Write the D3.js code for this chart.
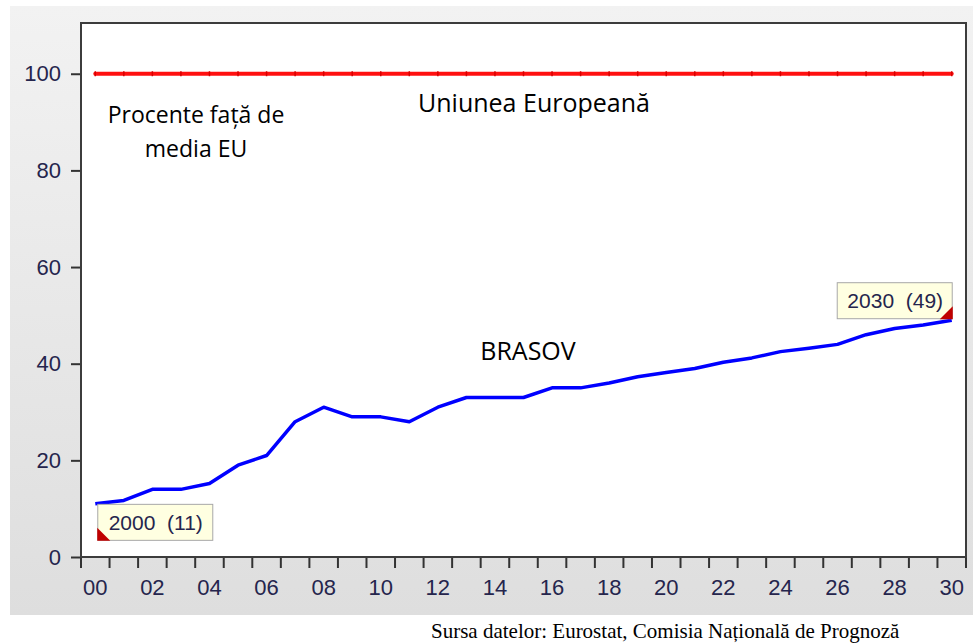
<!DOCTYPE html>
<html>
<head>
<meta charset="utf-8">
<script src="https://cdn.jsdelivr.net/npm/d3@7"></script>
<style>
  body { margin: 0; background: #fff; }
  svg { display: block; }
</style>
</head>
<body>
<div id="chart"></div>
<script>
var years = [2000, 2001, 2002, 2003, 2004, 2005, 2006, 2007, 2008, 2009, 2010,
             2011, 2012, 2013, 2014, 2015, 2016, 2017, 2018, 2019, 2020,
             2021, 2022, 2023, 2024, 2025, 2026, 2027, 2028, 2029, 2030];
var brasov = [11, 11.7, 14, 14, 15.2, 19, 21, 28, 31, 29, 29,
              28, 31, 33, 33, 33, 35, 35, 36, 37.3, 38.2,
              39, 40.3, 41.2, 42.5, 43.2, 44, 46, 47.3, 48, 49];
var eu = [100, 100, 100, 100, 100, 100, 100, 100, 100, 100, 100,
          100, 100, 100, 100, 100, 100, 100, 100, 100, 100,
          100, 100, 100, 100, 100, 100, 100, 100, 100, 100];
var yTicks = [0, 20, 40, 60, 80, 100];
var xTickLabels = {2000: "00", 2002: "02", 2004: "04", 2006: "06", 2008: "08", 2010: "10",
                   2012: "12", 2014: "14", 2016: "16", 2018: "18", 2020: "20", 2022: "22",
                   2024: "24", 2026: "26", 2028: "28", 2030: "30"};

var width = 973,
    height = 643,
    plot = {left: 81, right: 966, top: 23, bottom: 557},
    axisFont = "'Liberation Sans', Arial, sans-serif",
    labelFont = "'Open Sans', 'Noto Sans', sans-serif",
    tickColor = "#25254d";

var svg = d3.select("#chart").append("svg")
  .attr("width", width)
  .attr("height", height);

var defs = svg.append("defs");
var grad = defs.append("linearGradient").attr("id", "panelGrad")
  .attr("x1", 0).attr("y1", 0).attr("x2", 0).attr("y2", 1);
grad.append("stop").attr("offset", "0%").attr("stop-color", "#f2f2f2");
grad.append("stop").attr("offset", "100%").attr("stop-color", "#dedede");

// grey panel behind the chart
svg.append("rect")
  .attr("x", 10).attr("y", 6)
  .attr("width", width - 10).attr("height", 609)
  .attr("fill", "url(#panelGrad)");

// plot area
svg.append("rect")
  .attr("x", plot.left).attr("y", plot.top)
  .attr("width", plot.right - plot.left).attr("height", plot.bottom - plot.top)
  .attr("fill", "#fff");

var x = d3.scaleBand().domain(years).range([plot.left, plot.right]);
var y = d3.scaleLinear().domain([0, 110.5]).range([plot.bottom, plot.top]);
var cx = d => x(d) + x.bandwidth() / 2;

// x axis: ticks at band edges, labels at band centres
var xg = svg.append("g").attr("class", "x axis");
var edges = years.map(d => x(d)).concat([plot.right]);
xg.selectAll("line.tick").data(edges).enter().append("line")
  .attr("x1", d => d).attr("x2", d => d)
  .attr("y1", plot.bottom).attr("y2", plot.bottom + 11)
  .attr("stroke", "#333").attr("stroke-width", 2);
xg.selectAll("text").data(years.filter(d => xTickLabels[d])).enter().append("text")
  .attr("x", cx)
  .attr("y", plot.bottom + 38)
  .attr("text-anchor", "middle")
  .attr("fill", tickColor)
  .style("font-family", axisFont)
  .style("font-size", "22px")
  .text(d => xTickLabels[d]);

// y axis
var yAxis = d3.axisLeft(y).tickValues(yTicks).tickSize(10).tickPadding(10);
var yg = svg.append("g")
  .attr("class", "y axis")
  .attr("transform", `translate(${plot.left},0)`)
  .call(yAxis);
yg.select(".domain").remove();
yg.selectAll("line").attr("stroke", "#333").attr("stroke-width", 2);
yg.selectAll("text")
  .attr("fill", tickColor)
  .style("font-family", axisFont)
  .style("font-size", "22px");

// frame
svg.append("rect")
  .attr("x", plot.left).attr("y", plot.top)
  .attr("width", plot.right - plot.left).attr("height", plot.bottom - plot.top)
  .attr("fill", "none")
  .attr("stroke", "#3c3c3c")
  .attr("stroke-width", 2);

var line = d3.line().x((d, i) => cx(years[i])).y(d => y(d));

// EU line
svg.append("path")
  .datum(eu)
  .attr("fill", "none")
  .attr("stroke", "#ff1010")
  .attr("stroke-width", 4)
  .attr("stroke-linecap", "round")
  .attr("d", line);
svg.selectAll(".eu-mark").data(eu).enter().append("line")
  .attr("class", "eu-mark")
  .attr("x1", (d, i) => cx(years[i])).attr("x2", (d, i) => cx(years[i]))
  .attr("y1", d => y(d) - 2.5).attr("y2", d => y(d) + 2.5)
  .attr("stroke", "#d80000").attr("stroke-width", 1.5);

// Brasov line
svg.append("path")
  .datum(brasov)
  .attr("fill", "none")
  .attr("stroke", "#0000ff")
  .attr("stroke-width", 3.5)
  .attr("stroke-linejoin", "round")
  .attr("d", line);

// annotations
function label(txt, px, py, size) {
  svg.append("text")
    .attr("x", px).attr("y", py)
    .attr("text-anchor", "middle")
    .attr("fill", "#000")
    .style("font-family", labelFont)
    .style("font-size", size + "px")
    .text(txt);
}
label("Procente față de", 196, 123, 23);
label("media EU", 196, 157, 23);
label("Uniunea Europeană", 534, 112, 25);
label("BRASOV", 528, 360, 25);

// value tips at first and last point
function tip(i, side) {
  var px = cx(years[i]), py = y(brasov[i]);
  var w = 115, h = 36;
  var bx = side === "left" ? px + 2 : px - w;
  var by = side === "left" ? py : py - h - 2;
  var g = svg.append("g");
  g.append("rect")
    .attr("x", bx + 0.5).attr("y", by + 0.5)
    .attr("width", w).attr("height", h)
    .attr("fill", "#ffffe1")
    .attr("stroke", "#a8a8a8");
  g.append("text")
    .attr("x", bx + w / 2 + 1).attr("y", by + 26)
    .attr("text-anchor", "middle")
    .attr("fill", tickColor)
    .style("font-family", axisFont)
    .style("font-size", "21px")
    .style("white-space", "pre")
    .text(years[i] + "  (" + Math.round(brasov[i]) + ")");
  var tri = side === "left"
    ? [[bx, by + h - 12], [bx, by + h + 1], [bx + 13, by + h + 1]]
    : [[bx + w + 1, by + h - 12], [bx + w + 1, by + h + 1], [bx + w - 12, by + h + 1]];
  g.append("path")
    .attr("d", d3.line()(tri) + "Z")
    .attr("fill", "#c00000");
}
tip(0, "left");
tip(years.length - 1, "right");

// source
svg.append("text")
  .attr("x", 431).attr("y", 638)
  .attr("fill", "#000")
  .style("font-family", "'Liberation Serif', 'Times New Roman', serif")
  .style("font-size", "21px")
  .text("Sursa datelor: Eurostat, Comisia Națională de Prognoză");
</script>
</body>
</html>
